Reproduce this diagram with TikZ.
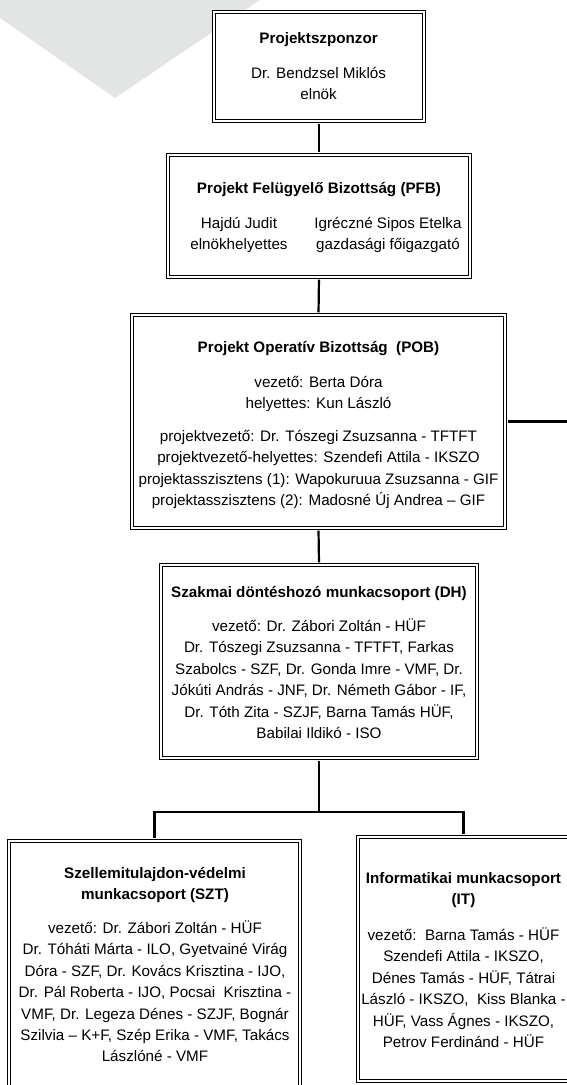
\documentclass[tikz,border=0pt]{standalone}
\usepackage{fontspec}
\setmainfont{Liberation Sans}
\definecolor{wmgray}{RGB}{227,229,229}
\begin{document}
\begin{tikzpicture}[x=1pt,y=-1pt,
  box/.style={draw=black, double=white, double distance=1.6pt, line width=1.1pt, inner sep=0pt, fill=white},
  conn/.style={line width=2.2pt, black, shorten <=1.9pt, shorten >=1.9pt},
  txt/.style={anchor=north, align=center, inner sep=0pt, font=\fontsize{15.2}{21.4}\selectfont},
  ttl/.style={txt, font=\fontsize{15.2}{21.4}\selectfont\bfseries}]
\useasboundingbox (0,0) rectangle (567,1085);
\clip (0,0) rectangle (567,1085);
\fill[wmgray] (0,0) -- (260,0) -- (115,98) -- (0,18) -- cycle;

% boxes
\node[box, minimum width=210.2pt, minimum height=109.2pt] (spons) at (319,66.5) {};
\node[box, minimum width=302.2pt, minimum height=122.2pt] (pfb) at (319,216) {};
\node[box, minimum width=373.2pt, minimum height=213.2pt] (pob) at (318.5,421.5) {};
\node[box, minimum width=316.2pt, minimum height=193.2pt] (dh) at (319,661.5) {};
\node[box, minimum width=291.2pt, minimum height=252.2pt] (szt) at (154.5,967) {};
\node[box, minimum width=211.2pt, minimum height=244.2pt] (it) at (463.5,959) {};

% connectors
\coordinate (bus) at (319,812);
\coordinate (pobR) at (585,421.5);
\draw[conn] (spons.south) -- (pfb.north);
\draw[conn] (pfb.south) -- (pob.north);
\draw[conn] (pob.south) -- (dh.north);
\draw[conn] (pob.east) -- (pobR);
\draw[conn, shorten >=0pt] (dh.south) -- (bus);
\draw[conn] (szt.north) |- (bus) -| (it.north);

% texts
\node[ttl] (sponsT) at (318.6,28.4) {\strut Projektszponzor};
\node[txt] (sponsB) at (318.6,63.4) {\strut Dr. Bendzsel Miklós\\elnök};

\node[ttl] (pfbT) at (319,178.4) {\strut Projekt Felügyelő Bizottság (PFB)};
\node[txt] (pfbL) at (239,213.4) {\strut Hajdú Judit\\elnökhelyettes};
\node[txt] (pfbR) at (388,213.4) {\strut Igréczné Sipos Etelka\\gazdasági főigazgató};

\node[ttl] (pobT) at (318.5,337.4) {\strut Projekt Operatív Bizottság\ \ (POB)};
\node[txt] (pobB1) at (318.5,372.4) {\strut vezető: Berta Dóra\\helyettes: Kun László};
\node[txt] (pobB2) at (318.5,426.4) {\strut projektvezető: Dr. Tószegi Zsuzsanna - TFTFT\\
projektvezető-helyettes: Szendefi Attila - IKSZO\\
projektasszisztens (1): Wapokuruua Zsuzsanna - GIF\\
projektasszisztens (2): Madosné Új Andrea – GIF};

\node[ttl] (dhT) at (319,582.4) {\strut Szakmai döntéshozó munkacsoport (DH)};
\node[txt] (dhB) at (319,616.4) {\strut vezető: Dr. Zábori Zoltán - HÜF\\
Dr. Tószegi Zsuzsanna - TFTFT, Farkas\\
Szabolcs - SZF, Dr. Gonda Imre - VMF, Dr.\\
Jókúti András - JNF, Dr. Németh Gábor - IF,\\
Dr. Tóth Zita - SZJF, Barna Tamás HÜF,\\
Babilai Ildikó - ISO};

\node[ttl] (sztT) at (155,863.4) {\strut Szellemitulajdon-védelmi\\munkacsoport (SZT)};
\node[txt] (sztB) at (155,918.4) {\strut vezető: Dr. Zábori Zoltán - HÜF\\
Dr. Tóháti Márta - ILO, Gyetvainé Virág\\
Dóra - SZF, Dr. Kovács Krisztina - IJO,\\
Dr. Pál Roberta - IJO, Pocsai\ \ Krisztina -\\
VMF, Dr. Legeza Dénes - SZJF, Bognár\\
Szilvia – K+F, Szép Erika - VMF, Takács\\
Lászlóné - VMF};

\node[ttl] (itT) at (463.5,868.4) {\strut Informatikai munkacsoport\\(IT)};
\node[txt] (itB) at (463.5,925.4) {\strut vezető:\ \ Barna Tamás - HÜF\\
Szendefi Attila - IKSZO,\\
Dénes Tamás - HÜF, Tátrai\\
László - IKSZO,\ \ Kiss Blanka -\\
HÜF, Vass Ágnes - IKSZO,\\
Petrov Ferdinánd - HÜF};
\end{tikzpicture}
\end{document}
